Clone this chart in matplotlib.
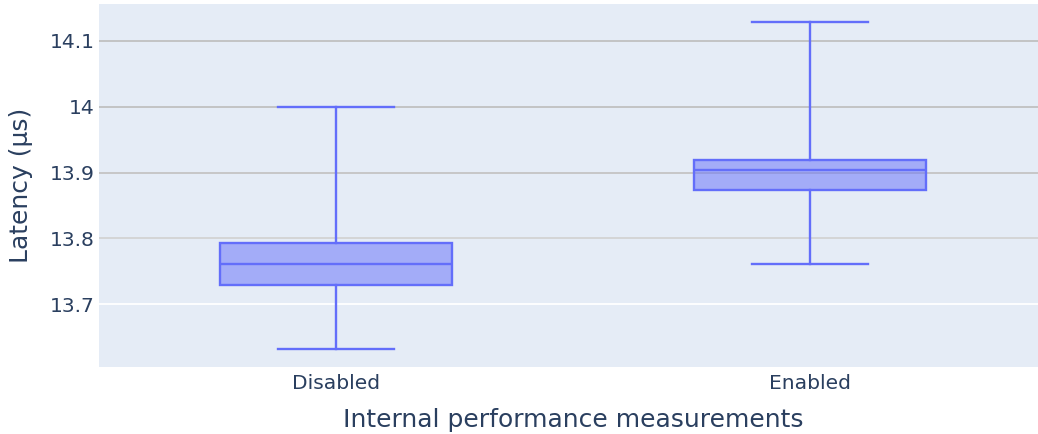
import matplotlib.pyplot as plt
from matplotlib.colors import to_rgba

# box summary per setting (latency in microseconds)
categories = ["Disabled", "Enabled"]
whisker_low = [13.632, 13.761]
q1 = [13.729, 13.873]
median = [13.761, 13.904]
q3 = [13.793, 13.919]
whisker_high = [14.000, 14.128]

y_ticks = [13.7, 13.8, 13.9, 14.0, 14.1]
y_tick_labels = ["13.7", "13.8", "13.9", "14", "14.1"]
grid_colors = ["#ffffff", "#d3d3d3", "#c4c4c4", "#c0c0c0", "#c0c0c0"]

LINE = "#636efa"
BG = "#e5ecf6"
TEXT = "#2a3f5f"

plt.rcParams["font.family"] = ["DejaVu Sans"]

fig = plt.figure(figsize=(10.38, 4.34), dpi=100)
W, H = 1038, 434
left, right, top, bottom = 99, 1047, 4, 366.7
ax = fig.add_axes([left / W, (H - bottom) / H, (right - left) / W, (bottom - top) / H])
ax.set_facecolor(BG)

for t, c in zip(y_ticks, grid_colors):
    ax.axhline(t, color=c, lw=1.3, zorder=0)

stats = []
for i, name in enumerate(categories):
    stats.append(dict(label=name, whislo=whisker_low[i], q1=q1[i], med=median[i],
                      q3=q3[i], whishi=whisker_high[i], fliers=[]))

ax.bxp(stats, positions=range(len(categories)), widths=0.49, capwidths=0.245,
       patch_artist=True, showfliers=False,
       boxprops=dict(facecolor=to_rgba(LINE, 0.5), edgecolor=LINE, linewidth=1.7),
       medianprops=dict(color=LINE, linewidth=1.7),
       whiskerprops=dict(color=LINE, linewidth=1.7),
       capprops=dict(color=LINE, linewidth=1.7))

ax.set_xlim(-0.5, 1.5)
ax.set_ylim(13.6055, 14.1556)
ax.set_yticks(y_ticks)
ax.set_yticklabels(y_tick_labels)
ax.set_xticks(range(len(categories)))
ax.set_xticklabels(categories)

for s in ax.spines.values():
    s.set_visible(False)
ax.tick_params(axis="both", length=0, labelsize=14.6, labelcolor=TEXT)
ax.tick_params(axis="y", pad=3)
ax.tick_params(axis="x", pad=5)

ax.set_xlabel("Internal performance measurements", fontsize=18, color=TEXT, va="center")
ax.set_ylabel("Latency (μs)", fontsize=18, color=TEXT, va="center")
ax.xaxis.set_label_coords((573 - left) / (right - left), -(420 - bottom) / (bottom - top))
ax.yaxis.set_label_coords(-(99 - 21) / (right - left), (bottom - 185) / (bottom - top))

fig.savefig("out.png", dpi=100)
